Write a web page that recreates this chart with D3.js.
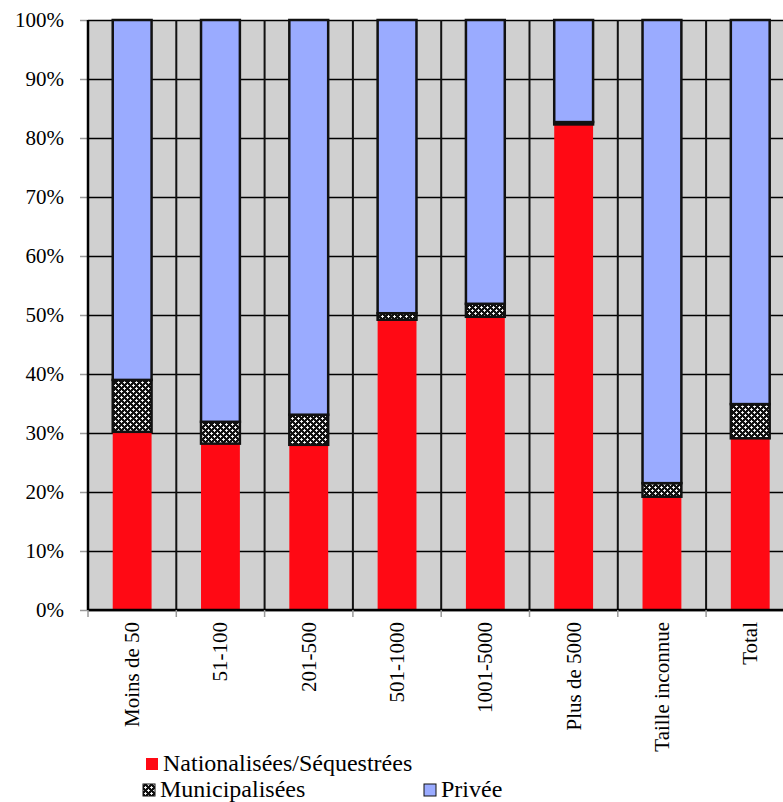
<!DOCTYPE html>
<html>
<head>
<meta charset="utf-8">
<script src="https://cdn.jsdelivr.net/npm/d3@7"></script>
<style>
  body { margin: 0; background: #fff; }
</style>
</head>
<body>
<div id="chart"></div>
<script>
// data (percent of each size class)
const categories = ["Moins de 50", "51-100", "201-500", "501-1000", "1001-5000", "Plus de 5000", "Taille inconnue", "Total"];
const nationalisees = [30.2, 28.2, 28.0, 49.2, 49.7, 82.3, 19.2, 29.1];
const municipalisees = [8.8, 3.7, 5.1, 1.1, 2.2, 0.4, 2.3, 5.8];
const privee = categories.map((c, i) => 100 - nationalisees[i] - municipalisees[i]);
const yTicks = [0, 10, 20, 30, 40, 50, 60, 70, 80, 90, 100];
const seriesNames = ["Nationalisées/Séquestrées", "Municipalisées", "Privée"];

const FONT = "serif";
const width = 783, height = 802;
const margin = {top: 20, left: 88};
const step = 88.3;
const plotW = step * categories.length;
const plotH = 590;

const svg = d3.select("#chart").append("svg")
  .attr("width", width)
  .attr("height", height);

// pattern for the municipal series
const defs = svg.append("defs");
const pat = defs.append("pattern")
  .attr("id", "muni")
  .attr("patternUnits", "userSpaceOnUse")
  .attr("width", 6).attr("height", 6);
pat.append("rect").attr("width", 6).attr("height", 6).attr("fill", "#111");
pat.append("path").attr("d", "M0,1.5h3M1.5,0v3").attr("stroke", "#fff").attr("stroke-width", 0.9);
pat.append("path").attr("d", "M3,4.5h3M4.5,3v3").attr("stroke", "#fff").attr("stroke-width", 0.9);

const colors = ["#ff0914", "url(#muni)", "#9aabff"];

const x = d3.scaleBand()
  .domain(categories)
  .range([margin.left, margin.left + plotW])
  .paddingInner(0.56)
  .paddingOuter(0.28);

const y = d3.scaleLinear().domain([0, 100]).range([margin.top + plotH, margin.top]);

svg.append("rect")
  .attr("x", margin.left).attr("y", margin.top)
  .attr("width", plotW).attr("height", plotH)
  .attr("fill", "#d0d0d0");

// horizontal gridlines via the axis (labels drawn separately below)
const yAxis = svg.append("g")
  .attr("transform", `translate(${margin.left},0)`)
  .call(d3.axisLeft(y).tickValues(yTicks).tickSize(-plotW).tickFormat(""));
yAxis.select(".domain").remove();
yAxis.selectAll(".tick text").remove();
yAxis.selectAll(".tick line").attr("stroke", "#000").attr("stroke-width", 1.3);
yAxis.selectAll(".tick").append("line")
  .attr("x1", -8).attr("x2", 0)
  .attr("stroke", "#999").attr("stroke-width", 1.5);

// y labels
svg.selectAll(".ylab").data(yTicks).join("text")
  .attr("class", "ylab")
  .attr("x", margin.left - 24)
  .attr("y", d => y(d) + 7)
  .attr("text-anchor", "end")
  .attr("font-family", FONT)
  .attr("font-size", 21)
  .attr("fill", "#000")
  .text(d => d + "%");

// vertical separators between categories
const bounds = d3.range(categories.length + 1).map(i => margin.left + i * x.step());
svg.selectAll(".vsep").data(bounds).join("line")
  .attr("class", "vsep")
  .attr("x1", d => d).attr("x2", d => d)
  .attr("y1", margin.top).attr("y2", margin.top + plotH)
  .attr("stroke", "#111").attr("stroke-width", 2);

// stacked bars
const rows = categories.map((c, i) => ({cat: c, n: nationalisees[i], m: municipalisees[i], p: privee[i]}));
const stack = d3.stack().keys(["n", "m", "p"])(rows);

stack.forEach((layer, k) => {
  svg.append("g").selectAll("rect").data(layer).join("rect")
    .attr("x", d => x(d.data.cat))
    .attr("width", x.bandwidth())
    .attr("y", d => y(d[1]))
    .attr("height", d => y(d[0]) - y(d[1]))
    .attr("fill", colors[k])
    .attr("stroke", k === 0 ? "none" : "#111")
    .attr("stroke-width", 2.5);
});

// axis lines and bottom ticks
const y0 = margin.top + plotH;
svg.append("line")
  .attr("x1", margin.left).attr("x2", margin.left + plotW)
  .attr("y1", y0).attr("y2", y0)
  .attr("stroke", "#000").attr("stroke-width", 2.5);
svg.append("line")
  .attr("x1", margin.left).attr("x2", margin.left)
  .attr("y1", margin.top).attr("y2", y0)
  .attr("stroke", "#000").attr("stroke-width", 2.5);
svg.selectAll(".xt").data(bounds).join("line")
  .attr("class", "xt")
  .attr("x1", d => d).attr("x2", d => d)
  .attr("y1", y0).attr("y2", y0 + 7)
  .attr("stroke", "#999").attr("stroke-width", 1.5);

// rotated category labels
svg.selectAll(".xl").data(categories).join("text")
  .attr("class", "xl")
  .attr("transform", d => `translate(${x(d) + x.bandwidth() / 2 + 7},${y0 + 12}) rotate(-90)`)
  .attr("text-anchor", "end")
  .attr("font-family", FONT)
  .attr("font-size", 21)
  .attr("fill", "#000")
  .text(d => d);

// legend
const legendItems = [
  {name: seriesNames[0], color: colors[0], x: 146, y: 758},
  {name: seriesNames[1], color: colors[1], x: 143, y: 784},
  {name: seriesNames[2], color: colors[2], x: 424, y: 784}
];
svg.selectAll(".lsw").data(legendItems).join("rect")
  .attr("class", "lsw")
  .attr("x", d => d.x).attr("y", d => d.y)
  .attr("width", 12).attr("height", 12)
  .attr("fill", d => d.color)
  .attr("stroke", (d, i) => i === 0 ? "none" : "#111")
  .attr("stroke-width", 1);
svg.selectAll(".ltx").data(legendItems).join("text")
  .attr("class", "ltx")
  .attr("x", d => d.x + 17).attr("y", d => d.y + 13)
  .attr("font-family", FONT)
  .attr("font-size", 24)
  .attr("fill", "#000")
  .text(d => d.name);
</script>
</body>
</html>
